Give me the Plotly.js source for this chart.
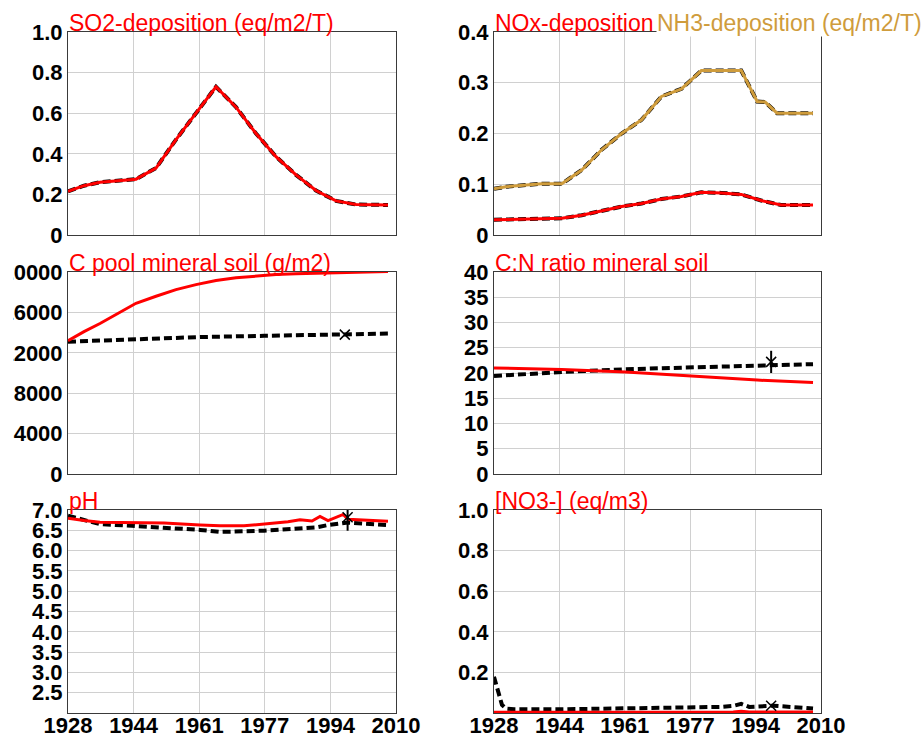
<!DOCTYPE html>
<html>
<head>
<meta charset="utf-8">
<script src="https://cdn.plot.ly/plotly-3.0.1.min.js"></script>
<style>
  html, body { margin: 0; padding: 0; background: #ffffff; }
  #wrap { position: absolute; left: 13px; top: 0; width: 910px; height: 737px; overflow: hidden; }
  #plot { position: absolute; left: -13px; top: 0; width: 923px; height: 737px; }
</style>
</head>
<body>
<div id="wrap"><div id="plot"></div></div>
<script>
// ---------- data ----------
const xTickVals = [1928, 1944.4, 1960.8, 1977.2, 1993.6, 2010];
const xTickLabels = ['1928', '1944', '1961', '1977', '1994', '2010'];

// SO2 deposition (eq/m2/T)
const so2Years = [1928, 1932, 1936, 1940, 1945, 1950, 1955, 1960, 1965, 1970, 1975, 1980, 1985, 1990, 1995, 2000, 2008];
const so2Red   = [0.215, 0.243, 0.26, 0.266, 0.275, 0.33, 0.47, 0.60, 0.73, 0.63, 0.50, 0.386, 0.296, 0.219, 0.168, 0.15, 0.148];
const so2Black = [0.215, 0.243, 0.26, 0.266, 0.275, 0.33, 0.47, 0.60, 0.73, 0.63, 0.50, 0.386, 0.296, 0.219, 0.168, 0.15, 0.148];

// NOx deposition
const noxYears = [1928, 1945, 1950, 1955, 1960, 1965, 1970, 1975, 1980, 1985, 1990, 1995, 2000, 2008];
const noxRed   = [0.030, 0.033, 0.039, 0.048, 0.056, 0.062, 0.071, 0.076, 0.084, 0.083, 0.080, 0.068, 0.059, 0.059];
const noxBlack = [0.030, 0.033, 0.039, 0.048, 0.056, 0.062, 0.071, 0.076, 0.084, 0.083, 0.080, 0.068, 0.059, 0.059];

// NH3 deposition
const nh3Years = [1928, 1931, 1940, 1945, 1950, 1955, 1960, 1965, 1970, 1975, 1980, 1985, 1990, 1994, 1996, 1999, 2008];
const nh3Gold  = [0.091, 0.095, 0.101, 0.101, 0.128, 0.168, 0.200, 0.227, 0.273, 0.288, 0.324, 0.324, 0.324, 0.263, 0.262, 0.240, 0.240];
const nh3Black = [0.091, 0.095, 0.101, 0.101, 0.128, 0.168, 0.200, 0.227, 0.273, 0.288, 0.324, 0.324, 0.324, 0.263, 0.262, 0.240, 0.240];

// C pool mineral soil (g/m2)
const cpoolRedYears = [1928, 1932, 1936, 1940, 1945, 1950, 1955, 1960, 1965, 1970, 1975, 1980, 1985, 1990, 2000, 2008];
const cpoolRed      = [13200, 14100, 14900, 15800, 16900, 17600, 18250, 18750, 19150, 19420, 19620, 19750, 19830, 19880, 19960, 20050];
const cpoolBlackYears = [1928, 1945, 1961, 1977, 1997, 2008];
const cpoolBlack      = [13100, 13350, 13560, 13680, 13800, 13900];
const cpoolObsYears = [1997.2];
const cpoolObs      = [13800];

// C:N ratio mineral soil
const cnYears = [1928, 1945, 1961, 1977, 1994, 2008];
const cnRed   = [21.0, 20.7, 20.2, 19.4, 18.6, 18.1];
const cnBlack = [19.4, 20.2, 20.75, 21.1, 21.4, 21.75];
const cnObsYears = [1997.5];
const cnObs      = [22.2];
const cnObsErr   = [2.2];

// pH
const phRedYears = [1928, 1932, 1936, 1944, 1952, 1961, 1966, 1972, 1978, 1983, 1986, 1989, 1991, 1993, 1996.8, 1998, 2008];
const phRed      = [6.80, 6.74, 6.70, 6.69, 6.68, 6.63, 6.61, 6.61, 6.67, 6.71, 6.76, 6.73, 6.84, 6.74, 6.89, 6.77, 6.72];
const phBlackYears = [1928, 1936, 1944, 1952, 1961, 1966, 1977, 1990, 1993, 1998, 2008];
const phBlack      = [6.86, 6.65, 6.61, 6.57, 6.51, 6.46, 6.49, 6.57, 6.63, 6.69, 6.63];
const phObsYears = [1996.9, 1997.9];
const phObs      = [7.08, 6.82];
const phObsErr   = [0.08, 0.33];

// [NO3-] (eq/m3)
const no3BlackYears = [1928, 1929, 1930, 1931, 1933, 1944, 1961, 1977, 1985, 1988, 1990, 1992, 1995, 1998, 2008];
const no3Black      = [0.178, 0.10, 0.04, 0.022, 0.018, 0.018, 0.022, 0.027, 0.030, 0.035, 0.045, 0.030, 0.032, 0.036, 0.022];
const no3RedYears = [1928, 1988, 1990, 1992, 2008];
const no3Red      = [0.004, 0.005, 0.009, 0.005, 0.005];
const no3ObsYears = [1997.5];
const no3Obs      = [0.036];

// ---------- styles ----------
const RED = '#ff0000';
const GOLD = '#cf9c3c';
const DASH = '8px,4px';

function blackLine(x, y, ax) {
  return { x: x, y: y, xaxis: 'x' + ax, yaxis: 'y' + ax, mode: 'lines', type: 'scatter',
           line: { color: '#000000', width: 4, dash: DASH }, hoverinfo: 'skip' };
}
function solidLine(x, y, ax, color) {
  return { x: x, y: y, xaxis: 'x' + ax, yaxis: 'y' + ax, mode: 'lines', type: 'scatter',
           line: { color: color, width: 3 }, hoverinfo: 'skip' };
}
function obs(x, y, ax, err) {
  const t = { x: x, y: y, xaxis: 'x' + ax, yaxis: 'y' + ax, mode: 'markers', type: 'scatter',
              marker: { symbol: 'x-thin', size: 10, color: '#000000', line: { color: '#000000', width: 1.5 } },
              hoverinfo: 'skip', cliponaxis: false };
  if (err) t.error_y = { type: 'data', array: err, visible: true, color: '#000000', thickness: 2, width: 0 };
  return t;
}

const traces = [
  blackLine(so2Years, so2Black, ''), solidLine(so2Years, so2Red, '', RED),
  blackLine(noxYears, noxBlack, 2), solidLine(noxYears, noxRed, 2, RED),
  blackLine(nh3Years, nh3Black, 2), solidLine(nh3Years, nh3Gold, 2, GOLD),
  blackLine(cpoolBlackYears, cpoolBlack, 3), solidLine(cpoolRedYears, cpoolRed, 3, RED), obs(cpoolObsYears, cpoolObs, 3),
  blackLine(cnYears, cnBlack, 4), solidLine(cnYears, cnRed, 4, RED), obs(cnObsYears, cnObs, 4, cnObsErr),
  blackLine(phBlackYears, phBlack, 5), solidLine(phRedYears, phRed, 5, RED), obs(phObsYears, phObs, 5, phObsErr),
  blackLine(no3BlackYears, no3Black, 6), solidLine(no3RedYears, no3Red, 6, RED), obs(no3ObsYears, no3Obs, 6)
];

const W = 923, H = 737;
const colL = [68 / W, 396 / W];
const colR = [494 / W, 821 / W];
const row1 = [1 - 235 / H, 1 - 32 / H];
const row2 = [1 - 474 / H, 1 - 272 / H];
const row3 = [1 - 713 / H, 1 - 510 / H];

const tickFont = { family: 'Liberation Sans, Arial, sans-serif', size: 22, color: '#000000', weight: 'bold' };

function xa(dom, anchor, showLabels) {
  return { domain: dom, anchor: anchor, range: [1928, 2010], tickmode: 'array',
           tickvals: xTickVals, ticktext: xTickLabels, showticklabels: showLabels,
           showgrid: true, gridcolor: '#d0d0d0', gridwidth: 1, zeroline: false,
           showline: true, mirror: true, linecolor: '#3a3a3a', linewidth: 1,
           ticks: '', ticklabelstandoff: -7, tickfont: tickFont, fixedrange: true };
}
function ya(dom, anchor, range, vals, text) {
  return { domain: dom, anchor: anchor, range: range, tickmode: 'array',
           tickvals: vals, ticktext: text,
           showgrid: true, gridcolor: '#d0d0d0', gridwidth: 1, zeroline: false,
           showline: true, mirror: true, linecolor: '#3a3a3a', linewidth: 1,
           ticks: '', tickfont: tickFont, fixedrange: true };
}

const titleFont = { family: 'Liberation Sans, Arial, sans-serif', size: 23, color: RED };
function title(text, xpx, ytopPx, color, bg) {
  const a = { text: text, xref: 'paper', yref: 'paper', x: xpx / W, y: 1 - ytopPx / H,
              xanchor: 'left', yanchor: 'bottom', showarrow: false, yshift: -5, borderpad: 0,
              font: Object.assign({}, titleFont, { color: color || RED }) };
  if (bg) a.bgcolor = bg;
  return a;
}

const layout = {
  width: W, height: H, margin: { l: 0, r: 0, t: 0, b: 0 },
  paper_bgcolor: '#ffffff', plot_bgcolor: '#ffffff', showlegend: false,
  xaxis:  xa(colL, 'y', false),  yaxis:  ya(row1, 'x', [0, 1], [0, 0.2, 0.4, 0.6, 0.8, 1.0], ['0', '0.2', '0.4', '0.6', '0.8', '1.0']),
  xaxis2: xa(colR, 'y2', false), yaxis2: ya(row1, 'x2', [0, 0.4], [0, 0.1, 0.2, 0.3, 0.4], ['0', '0.1', '0.2', '0.3', '0.4']),
  xaxis3: xa(colL, 'y3', false), yaxis3: ya(row2, 'x3', [0, 20000], [0, 4000, 8000, 12000, 16000, 20000], ['0', '4000', '8000', '12000', '16000', '20000']),
  xaxis4: xa(colR, 'y4', false), yaxis4: ya(row2, 'x4', [0, 40], [0, 5, 10, 15, 20, 25, 30, 35, 40], ['0', '5', '10', '15', '20', '25', '30', '35', '40']),
  xaxis5: xa(colL, 'y5', true),  yaxis5: ya(row3, 'x5', [2, 7], [2.5, 3, 3.5, 4, 4.5, 5, 5.5, 6, 6.5, 7], ['2.5', '3.0', '3.5', '4.0', '4.5', '5.0', '5.5', '6.0', '6.5', '7.0']),
  xaxis6: xa(colR, 'y6', true),  yaxis6: ya(row3, 'x6', [0, 1], [0.2, 0.4, 0.6, 0.8, 1.0], ['0.2', '0.4', '0.6', '0.8', '1.0']),
  annotations: [
    title('SO2-deposition (eq/m2/T)', 68, 32),
    title('NOx-deposition (eq/m2/T)', 494, 32),
    title('NH3-deposition (eq/m2/T)', 656, 32, GOLD, '#ffffff'),
    title('C pool mineral soil (g/m2)', 68, 272),
    title('C:N ratio mineral soil', 494, 272),
    title('pH', 68, 510),
    title('[NO3-] (eq/m3)', 494, 510)
  ]
};

Plotly.newPlot('plot', traces, layout, { displayModeBar: false, staticPlot: true });
</script>
</body>
</html>
